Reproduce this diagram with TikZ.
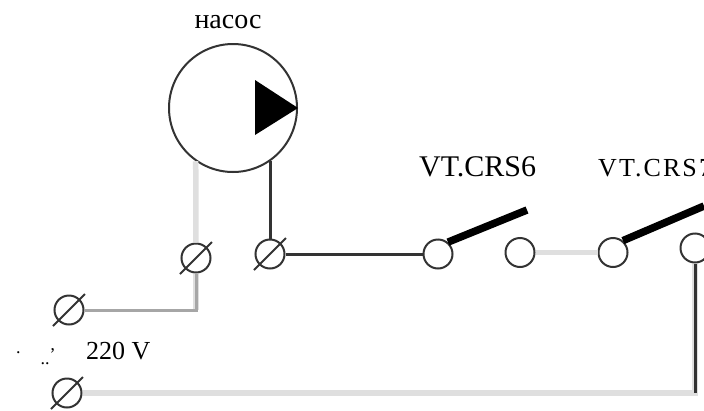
\documentclass[tikz,border=0pt]{standalone}
\usepackage{fontspec}
\setmainfont{Liberation Serif}
\usetikzlibrary{calc}
\definecolor{wdark}{HTML}{333333}
\definecolor{wmid}{HTML}{A6A6A6}
\definecolor{wlight}{HTML}{DFDFDF}
\tikzset{
  pumpring/.style={circle,draw=wdark,line width=2pt,inner sep=0pt,minimum size=128pt},
  port/.style={circle,draw=wdark,line width=2pt,inner sep=0pt,minimum size=29pt},
  lbl/.style={inner sep=0pt,text=black},
  darkwire/.style={draw=wdark,line width=3pt},
  midwire/.style={draw=wmid,line width=3pt},
  lightwire/.style={draw=wlight,line width=5.5pt},
  blade/.style={draw=black,line width=7.5pt},
  slash/.style={draw=wdark,line width=2pt}
}
\begin{document}
\begin{tikzpicture}[x=1pt,y=-1pt]
\useasboundingbox (0,0) rectangle (704,410);
\clip (0,0) rectangle (704,410);
\fill[white] (0,0) rectangle (704,410);
\node[pumpring] (pump) at (233,108) {};
\node[port] (t1) at (196,258) {};
\node[port] (t2) at (270,254) {};
\node[port] (t3) at (69,310) {};
\node[port] (t4) at (67,393) {};
\node[port] (s1) at (438,254) {};
\node[port] (s2) at (520,252.5) {};
\node[port] (s3) at (613,252.5) {};
\node[port] (s4) at (695,248) {};
\coordinate (b1) at (527,210);
\coordinate (b2) at (704,206);
\path[lightwire] (pump.235) -- (t1.north);
\path[lightwire,line width=6pt] (t1.south) -- (t1.south |- t3.east);
\path[midwire] (t1.south) |- (t3.east);
\path[darkwire] (t2.north |- pump.305) -- (t2.north);
\path[darkwire] (t2.east) -- (s1.west);
\path[lightwire] (s2.east) -- (s3.west);
\path[lightwire] (t4.east) -| (s4.south);
\path[darkwire] (s4.south) -- (s4.south |- t4.east);
\fill[black] (255,80) -- (298,108) -- (255,135) -- cycle;
\path[blade] (s1.50) -- (b1);
\path[blade] (s3.50) -- (b2);
\foreach \n in {t1,t2,t3,t4}
  \path[slash] ($(\n)+(-16,16)$) -- ($(\n)+(16,-16)$);
\node[lbl,font=\fontsize{28}{28}\selectfont] (pumplabel) at (228,22) {насос};
\node[lbl,font=\fontsize{30}{30}\selectfont,anchor=west] (sw1label) at (419,167) {VT.CRS6};
\node[lbl,font=\fontsize{26}{26}\selectfont\addfontfeature{LetterSpace=8},anchor=west] (sw2label) at (598,168) {VT.CRS7};
\node[lbl,font=\fontsize{26}{26}\selectfont,anchor=west] (voltlabel) at (86,351) {220 V};
\node[lbl,font=\fontsize{18}{18}\selectfont,anchor=base west] (dotlabel) at (16,364) {\raisebox{11pt}{.}\hspace{20pt}..\raisebox{4pt}{'}};
\end{tikzpicture}
\end{document}
